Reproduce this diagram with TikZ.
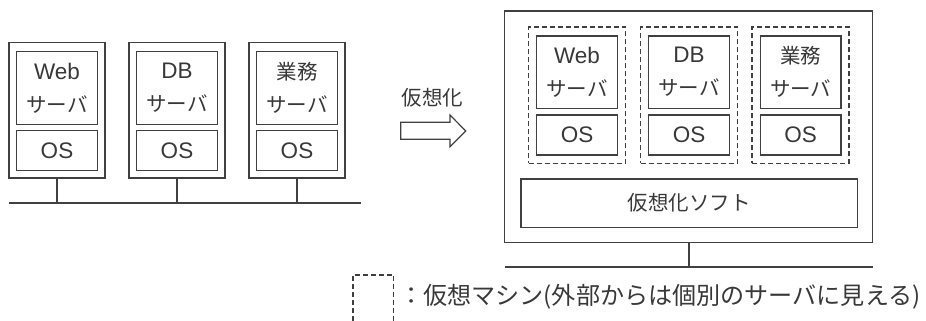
\documentclass[tikz,border=0pt]{standalone}
\usepackage{fontspec}
\setmainfont{Noto Sans CJK JP}
\newfontfamily\lat{Liberation Sans}
\definecolor{linec}{gray}{0.25}
\definecolor{textc}{gray}{0.22}
\newcommand\jpf{\fontsize{20.5}{33}\selectfont}
\newcommand\latf{\lat\fontsize{22.5}{33}\selectfont}
\begin{document}
\begin{tikzpicture}[x=1pt,y=-1pt,
  ln/.style={draw=linec, line width=1.4pt},
  srv/.style={ln, rectangle, minimum width=96pt, minimum height=135.3pt, inner sep=0pt},
  app/.style={ln, rectangle, minimum width=80.6pt, minimum height=72.5pt, inner sep=0pt, align=center, font=\jpf, text=textc},
  osbox/.style={ln, rectangle, minimum width=80.6pt, minimum height=40pt, inner sep=0pt, font=\latf, text=textc},
  vm/.style={draw=linec, line width=1.6pt, dash pattern=on 5pt off 3pt, rectangle, minimum width=97pt, minimum height=136pt, inner sep=0pt},
  vmline/.style={draw=linec, line width=1.6pt, dash pattern=on 5pt off 3pt},
  bus/.style={draw=linec, line width=2pt},
  lbl/.style={font=\jpf, text=textc, inner sep=0pt}]
\useasboundingbox (0,0) rectangle (926,321);
% left: physical servers
\foreach \i/\x/\t in {1/57/{{\latf Web}\\サーバ}, 2/177/{{\latf DB}\\サーバ}, 3/297/{業務\\サーバ}} {
  \node[srv] (s\i) at (\x,110.35) {};
  \node[app] (a\i) at (\x,88) {\t};
  \node[osbox] (o\i) at (\x,150.7) {OS};
}
\coordinate (bl) at (9,203.3);
\coordinate (br) at (360.7,203.3);
\draw[bus] (bl) -- (br);
\foreach \i in {1,2,3} { \draw[bus] (s\i.south) -- (s\i.south |- bl); }
% arrow
\node[lbl] (vlabel) at (432.3,97.3) {仮想化};
\draw[ln, line width=1.2pt, line join=miter] (400.7,122.3) -- (450,122.3) -- (450,115) -- (465.7,131) -- (450,146.7) -- (450,139.3) -- (400.7,139.3) -- cycle;
% right: virtualized host
\node[srv, minimum width=368pt, minimum height=231.7pt] (h) at (688.7,126.85) {};
\foreach \i/\x/\t in {1/577/{{\latf Web}\\サーバ}, 2/689/{{\latf DB}\\サーバ}, 3/800.7/{業務\\サーバ}} {
  \node[vm] (v\i) at (\x,95.3) {};
  \node[app] (b\i) at (\x,72.2) {\t};
  \node[osbox] (p\i) at (\x,135) {OS};
}
\node[ln, rectangle, minimum width=336.7pt, minimum height=48.3pt, inner sep=0pt, font=\jpf, text=textc] (sw) at (689.3,203.2) {仮想化ソフト};
\coordinate (rl) at (505,266.7);
\coordinate (rr) at (872.5,266.7);
\draw[bus] (rl) -- (rr);
\draw[bus] (h.south) -- (h.south |- rl);
% legend
\coordinate (lg1) at (352.7,321);
\coordinate (lg2) at (393.3,321);
\draw[vmline] (lg1) -- (352.7,275) -- (393.3,275) -- (lg2);
\node[lbl, font=\fontsize{24.1}{30}\selectfont, anchor=west] (legend) at (399,297) {：仮想マシン(外部からは個別のサーバに見える)};
\end{tikzpicture}
\end{document}
